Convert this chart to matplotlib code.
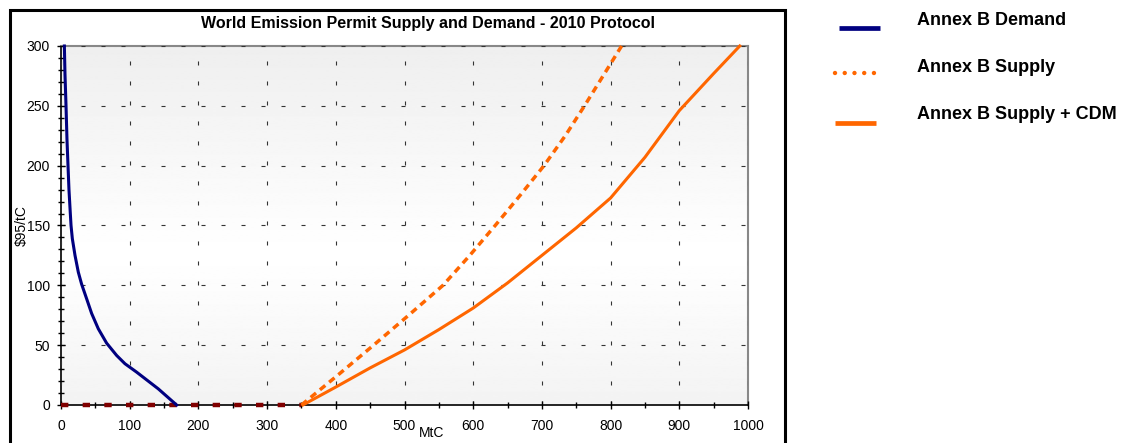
import numpy as np
import matplotlib
matplotlib.use("Agg")
import matplotlib.pyplot as plt
from matplotlib.lines import Line2D
from matplotlib.patches import Rectangle
from matplotlib.ticker import MultipleLocator

plt.rcParams['font.family'] = ['Liberation Sans', 'DejaVu Sans']
plt.rcParams['lines.scale_dashes'] = False

# Annex B demand curve (MtC, $95/tC)
demand_q = [4.9, 5.8, 7.3, 8.7, 10.2, 11.6, 13.5, 14.6, 16.5, 20.4, 25.2, 30, 37.3, 44.6,
            54.3, 66.4, 81, 93.1, 110, 141.6, 168.3]
demand_p = [300, 276.5, 250, 222, 200, 180, 160.6, 150, 139, 125, 111, 101, 88.8, 76.5,
            63.7, 51.7, 41.4, 34.5, 27.5, 13.5, 0]

# Annex B supply only
supply_q = [350, 403, 455, 506, 556, 595, 632, 668, 703, 734, 762, 789, 816]
supply_p = [0, 25, 50, 75, 100, 125, 150, 175, 200, 225, 250, 275, 300]

# Annex B supply + CDM
cdm_q = [352, 400, 450, 500, 550, 600, 650, 700, 750, 800, 850, 900, 950, 988]
cdm_p = [0, 15, 31, 46, 63, 81, 102, 125, 148, 173, 207, 246, 277, 300]

# zero-price segment
zero_q = [0, 350]
zero_p = [0, 0]

legend_labels = ['Annex B Demand', 'Annex B Supply', 'Annex B Supply + CDM']

W, H = 1127, 443
fig = plt.figure(figsize=(W / 100, H / 100), dpi=100)


def fx(px):
    return px / W


def fy(py):
    return 1 - py / H


ax = fig.add_axes([fx(61), fy(405), fx(748) - fx(61), fy(46) - fy(405)])

# background gradient: grey at top/bottom, white in the middle
t = np.linspace(0, 1, 300)
shade = 1.0 - 0.065 * np.abs(t - 0.42) / 0.58
ax.imshow(shade[:, None], cmap='gray', vmin=0, vmax=1, aspect='auto',
          extent=[0, 1000, 0, 300], origin='lower', zorder=0, interpolation='bilinear')

ax.set_xlim(0, 1000)
ax.set_ylim(0, 300)

ax.plot(zero_q, zero_p, color='#800000', lw=3.2, dashes=(5.3, 10.3), zorder=4, clip_on=False,
        dash_capstyle='butt')
ax.plot(demand_q, demand_p, color='#000080', lw=2.2, zorder=5, clip_on=False,
        solid_joinstyle='round')
ax.plot(supply_q, supply_p, color='#FF6600', lw=2.5, dashes=(5, 3.6), zorder=5, clip_on=False,
        dash_capstyle='butt')
ax.plot(cdm_q, cdm_p, color='#FF6600', lw=2.2, zorder=5, clip_on=False,
        solid_joinstyle='round')

ax.xaxis.set_major_locator(MultipleLocator(100))
ax.xaxis.set_minor_locator(MultipleLocator(50))
ax.yaxis.set_major_locator(MultipleLocator(50))
ax.yaxis.set_minor_locator(MultipleLocator(10))
ax.tick_params(which='both', direction='inout', top=False, right=False, color='black', width=1)
ax.tick_params(which='major', length=6)
ax.tick_params(which='minor', length=5)
ax.tick_params(axis='x', which='major', labelsize=10, pad=7)
ax.tick_params(axis='y', which='major', labelsize=10, pad=5)

ax.grid(True, which='major', color='#333333', lw=0.8, dashes=(2.9, 11.5))
ax.set_axisbelow(False)
for gl in ax.get_xgridlines() + ax.get_ygridlines():
    gl.set_zorder(2)

ax.spines['left'].set_color('black')
ax.spines['bottom'].set_color('black')
ax.spines['left'].set_linewidth(1.2)
ax.spines['bottom'].set_linewidth(1.2)
ax.spines['top'].set_color('#888888')
ax.spines['right'].set_color('#888888')
ax.spines['top'].set_linewidth(1.5)
ax.spines['right'].set_linewidth(1.5)

fig.text(fx(428), fy(28.3), 'World Emission Permit Supply and Demand - 2010 Protocol',
         ha='center', va='baseline', fontsize=11.5, fontweight='bold')
fig.text(fx(22), fy(226), r'\$95/tC', rotation=90, ha='center', va='center', fontsize=10)
fig.text(fx(432), fy(436.7), 'MtC', ha='center', va='baseline', fontsize=10)

# outer chart frame
fig.add_artist(Rectangle((fx(10), -0.1), fx(785) - fx(10), fy(10) + 0.1,
                         transform=fig.transFigure, fill=False, ec='black', lw=2.2))

# legend drawn by hand next to the frame
fig.add_artist(Line2D([fx(839), fx(880)], [fy(28.3), fy(28.3)], transform=fig.transFigure,
                      color='#000080', lw=3.4, solid_capstyle='butt'))
fig.add_artist(Line2D([fx(835), fx(874)], [fy(73.3), fy(73.3)], transform=fig.transFigure,
                      color='#FF6600', lw=3.2, dashes=(0.01, 7.0), dash_capstyle='round'))
fig.add_artist(Line2D([fx(835), fx(876)], [fy(123.4), fy(123.4)], transform=fig.transFigure,
                      color='#FF6600', lw=3.4, solid_capstyle='butt'))
for lab, yb in zip(legend_labels, [25, 71.7, 119.3]):
    fig.text(fx(917), fy(yb), lab, ha='left', va='baseline', fontsize=13, fontweight='bold')

fig.savefig('out.png', dpi=100)
